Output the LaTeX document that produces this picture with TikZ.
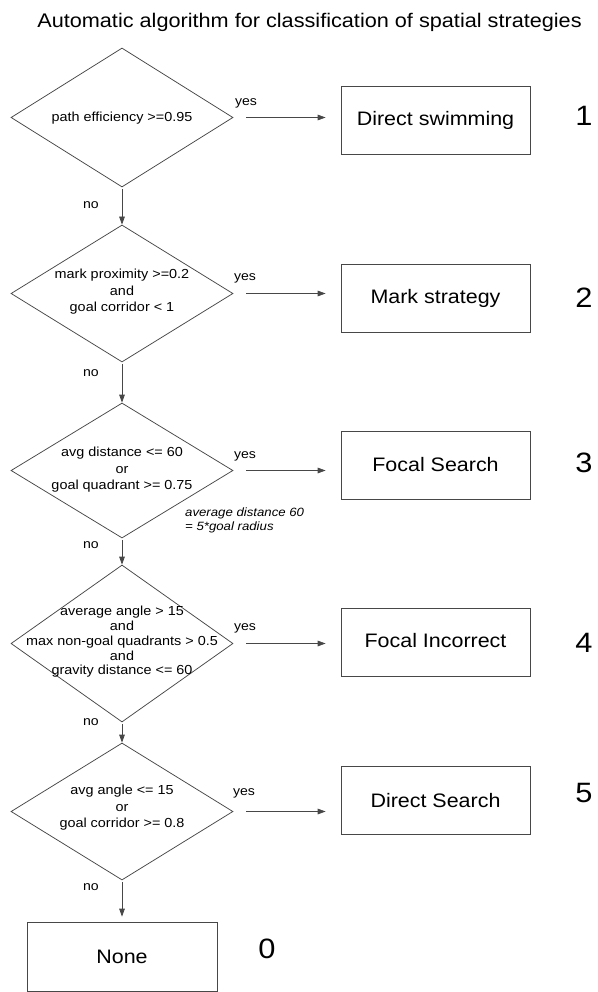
\documentclass[tikz,border=0pt]{standalone}
\usepackage{fontspec}
\setmainfont[FakeStretch=1.1]{Liberation Sans}
\usetikzlibrary{shapes.geometric,arrows.meta}

\begin{document}
\begin{tikzpicture}[x=1pt,y=-1pt,
  line/.style={draw=black!72, line width=0.75pt},
  flow/.style={line, -{Triangle[length=8pt,width=5.6pt]}},
  decision/.style={diamond, line, minimum width=222pt, inner sep=0pt},
  outcome/.style={rectangle, line, minimum width=189pt, minimum height=68pt,
    inner sep=0pt, font=\fontsize{19.5}{22}\selectfont, text=black},
  condtext/.style={align=center, inner sep=0pt, text=black,
    font=\fontsize{13.1}{16.5}\selectfont},
  tag/.style={inner sep=0pt, text=black, font=\fontsize{12.8}{15}\selectfont},
  rank/.style={inner sep=0pt, text=black, font=\fontsize{28}{30}\selectfont},
  note/.style={align=left, inner sep=0pt, text=black,
    font=\fontsize{12}{14}\selectfont\itshape},
  heading/.style={inner sep=0pt, text=black, font=\fontsize{19.7}{22}\selectfont}
]
\fill[white] (0,0) rectangle (597,992);
\useasboundingbox (0,0) rectangle (597,992);

\node[heading] (title) at (309.5,22) {Automatic algorithm for classification of spatial strategies};

% decision diamonds
\node[decision, minimum height=139pt] (d1) at (122,117.5) {};
\node[decision, minimum height=137pt] (d2) at (122,293.5) {};
\node[decision, minimum height=135pt] (d3) at (122,470.5) {};
\node[decision, minimum height=157pt] (d4) at (122,643.5) {};
\node[decision, minimum height=137pt] (d5) at (122,811.5) {};

\node[condtext] (t1) at (122,118) {path efficiency >=0.95};
\node[condtext] (t2) at (122,292) {mark proximity >=0.2\\and\\goal corridor < 1};
\node[condtext] (t3) at (122,470) {avg distance <= 60\\or\\goal quadrant >= 0.75};
\node[condtext, font=\fontsize{13.1}{14.7}\selectfont] (t4) at (122,642)
  {average angle > 15\\and\\max non-goal quadrants > 0.5\\and\\gravity distance <= 60};
\node[condtext] (t5) at (122,808) {avg angle <= 15\\or\\goal corridor >= 0.8};

% strategy boxes
\node[outcome] (b1) at (435.5,120.5) {Direct swimming};
\node[outcome] (b2) at (435.5,298.5) {Mark strategy};
\node[outcome] (b3) at (435.5,465) {Focal Search};
\node[outcome] (b4) at (435.5,642.5) {\raisebox{4pt}{Focal Incorrect}};
\node[outcome] (b5) at (435.5,800.5) {Direct Search};
\node[outcome, minimum width=190pt, minimum height=69pt] (none) at (122,956.5) {None};

% strategy codes
\node[rank] (r1) at (584,116) {1};
\node[rank] (r2) at (584,298) {2};
\node[rank] (r3) at (584,463) {3};
\node[rank] (r4) at (584,643) {4};
\node[rank] (r5) at (584,793) {5};
\node[rank] (r0) at (267,949) {0};

% yes branches
\foreach \i in {1,...,5}{
  \draw[flow, shorten <=13pt, shorten >=15pt] (d\i.east) -- (d\i.east -| b\i.west);
}
% no branches
\draw[flow, shorten <=2pt] (d1.south) -- (d2.north);
\draw[flow, shorten <=2pt] (d2.south) -- (d3.north);
\draw[flow, shorten <=2pt] (d3.south) -- (d4.north);
\draw[flow, shorten <=2pt] (d4.south) -- (d5.north);
\draw[flow, shorten <=2pt, shorten >=5pt] (d5.south) -- (none.north);

\node[tag] (y1) at (246,103) {yes};
\node[tag] (y2) at (245,278) {yes};
\node[tag] (y3) at (245,456) {yes};
\node[tag] (y4) at (245,628) {yes};
\node[tag] (y5) at (244,793) {yes};

\node[tag] (n1) at (91,205) {no};
\node[tag] (n2) at (91,373) {no};
\node[tag] (n3) at (91,545) {no};
\node[tag] (n4) at (91,722) {no};
\node[tag] (n5) at (91,887) {no};

\node[note, anchor=west] (remark) at (185,520) {average distance 60\\= 5*goal radius};
\end{tikzpicture}
\end{document}
